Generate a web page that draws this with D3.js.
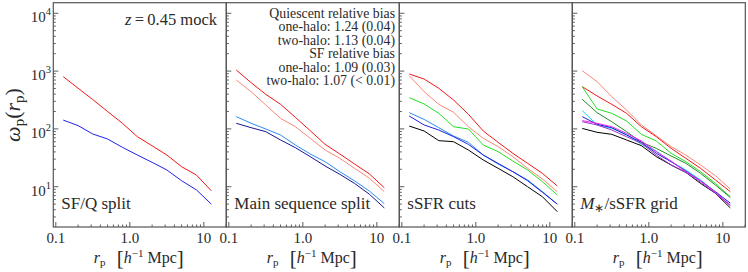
<!DOCTYPE html>
<html><head><meta charset="utf-8">
<script src="https://cdn.jsdelivr.net/npm/d3@7/dist/d3.min.js"></script>
</head><body style="margin:0;background:#fff"><svg id="c" width="748" height="272" style="display:block"></svg>
<script>
// ---- data ----
const rp = [0.126, 0.2, 0.316, 0.5, 0.794, 1.26, 2.0, 3.16, 5.0, 7.94, 12.6];

const p1_quiescent = [801, 506, 321, 200, 125, 73.5, 51, 35.4, 22.2, 15.9, 8.5];
const p1_starforming = [142, 114, 81.6, 66.9, 48, 35.4, 26.4, 19.5, 12.7, 8.8, 5.0];

const p2_q_below = [1044, 631, 396, 266, 158, 93, 54, 36.8, 24.7, 16.6, 9.6];
const p2_q_above = [701, 441, 259, 152, 109, 68.7, 43.2, 31, 20.8, 14, 8.2];
const p2_sf_below = [163, 125, 99.6, 78.4, 52.6, 36.8, 27.1, 18.2, 12.6, 8.4, 5.1];
const p2_sf_above = [125, 105, 89.5, 64.3, 47.3, 33.1, 22.8, 16.4, 11.4, 7.4, 4.3];

const p3_ssfr1 = [891, 730, 503, 316, 179, 92, 58.6, 37.8, 25.4, 17, 10.3];
const p3_ssfr2 = [834, 441, 266, 194, 109, 68.7, 49.3, 33.1, 20.8, 13.6, 8.2];
const p3_ssfr3 = [347, 270, 186, 109, 99.6, 52.6, 40.4, 27.8, 19.5, 12.2, 7.2];
const p3_ssfr4 = [191, 146, 105, 75.3, 58.6, 35.3, 24.7, 18.2, 13.1, 8.2, 5.0];
const p3_ssfr5 = [167, 117, 95.7, 73.4, 54, 35.3, 25.3, 18.2, 12.7, 8.0, 5.0];
const p3_ssfr6 = [112, 92, 62.6, 60.1, 43.1, 29, 20.8, 14.9, 10, 6.7, 3.7];

const p4_g1 = [1016, 656, 361, 212, 117, 76.3, 49.3, 35.3, 23.7, 15.5, 9.1];
const p4_g2 = [538, 371, 266, 186, 109, 73.4, 46.1, 31, 20.8, 13.1, 8.2];
const p4_g3 = [538, 221, 186, 137, 80.5, 61.8, 37.8, 27.1, 18.2, 11.4, 6.7];
const p4_g4 = [325, 191, 133, 89.6, 58.6, 46.1, 34, 25.4, 17, 10.7, 6.5];
const p4_g5 = [207, 117, 102, 80.5, 54, 41.5, 27.1, 19.5, 13.1, 8.0, 4.8];
const p4_g6 = [163, 120, 105, 78.4, 58.6, 37.8, 27.1, 18.7, 12.6, 8.2, 5.2];
const p4_g7 = [139, 125, 109, 83.8, 61.8, 40.4, 27.8, 18.2, 12.6, 8.0, 4.8];
const p4_g8 = [133, 117, 95.7, 73.4, 56.3, 35.3, 23.7, 17.7, 11.9, 7.7, 4.7];
const p4_g9 = [102, 87.3, 80.5, 64.3, 51.3, 33.1, 23.7, 17.7, 11.4, 7.7, 4.3];

const panelTitles = ["SF/Q split", "Main sequence split", "sSFR cuts", "M*/sSFR grid"];
const xTickValues = [0.1, 1, 10];
const xTickLabels = ["0.1", "1.0", "10"];
const yTickValues = [10, 100, 1000, 10000];
const yTickExps = ["1", "2", "3", "4"];
const annotationLines = ["Quiescent relative bias", "one-halo: 1.24 (0.04)", "two-halo: 1.13 (0.04)",
  "SF relative bias", "one-halo: 1.09 (0.03)", "two-halo: 1.07 (< 0.01)"];

const panels = [
  [{v: p1_quiescent, c: "#f01818"}, {v: p1_starforming, c: "#2020ee"}],
  [{v: p2_q_below, c: "#f01818"}, {v: p2_q_above, c: "#f88878"}, {v: p2_sf_below, c: "#2a8cf5"}, {v: p2_sf_above, c: "#16168c"}],
  [{v: p3_ssfr1, c: "#f01818"}, {v: p3_ssfr2, c: "#f88878"}, {v: p3_ssfr3, c: "#22e022"}, {v: p3_ssfr4, c: "#2a8cf5"}, {v: p3_ssfr5, c: "#2020dd"}, {v: p3_ssfr6, c: "#000"}],
  [{v: p4_g1, c: "#f88878"}, {v: p4_g2, c: "#f01818"}, {v: p4_g3, c: "#22e022"}, {v: p4_g4, c: "#228b22"}, {v: p4_g5, c: "#10dede"}, {v: p4_g6, c: "#2020dd"}, {v: p4_g9, c: "#000"}, {v: p4_g8, c: "#9a33cc"}, {v: p4_g7, c: "#ee22ee"}]
];

// ---- layout ----
const svg = d3.select("#c");
const txt = "#2a2a2a";
const left0 = 53.3, pw = 173, plotTop = 2.7, plotBottom = 227;
const x = d3.scaleLog().domain([0.0925, 20.1]).range([0, pw]);
const y = d3.scaleLog().domain([Math.pow(10, 0.303), Math.pow(10, 4.183)]).range([plotBottom, plotTop]);
const line = d3.line().x((d, i) => x(rp[i])).y(d => y(d));

const defs = svg.append("defs");
panels.forEach((series, p) => {
  const L = left0 + p * pw;
  const g = svg.append("g").attr("transform", `translate(${L},0)`);
  defs.append("clipPath").attr("id", "clip" + p).append("rect")
    .attr("x", 0).attr("y", plotTop).attr("width", pw).attr("height", plotBottom - plotTop);
  const xAxis = g.append("g").attr("transform", `translate(0,${plotBottom})`);
  const xMinor = [];
  [0.1, 1, 10].forEach(dec => { for (let k = 1; k <= 9; k++) { const v = dec * k; if (v > x.domain()[0] && v < x.domain()[1]) xMinor.push(v); } });
  xMinor.forEach(v => {
    const major = xTickValues.some(t => Math.abs(t - v) < 1e-9);
    xAxis.append("line").attr("x1", x(v)).attr("x2", x(v)).attr("y1", 0).attr("y2", major ? -5 : -2.5)
      .attr("stroke", "#333").attr("stroke-width", 0.8);
  });
  xTickValues.forEach((v, i) => {
    g.append("text").attr("x", x(v)).attr("y", 243).attr("text-anchor", "middle")
      .style("font-size", "15px").text(xTickLabels[i]);
  });
  const yMinor = [];
  [1, 10, 100, 1000, 10000].forEach(dec => { for (let k = 1; k <= 9; k++) { const v = dec * k; if (v > y.domain()[0] && v < y.domain()[1]) yMinor.push(v); } });
  yMinor.forEach(v => {
    const major = yTickValues.includes(v);
    g.append("line").attr("x1", 0).attr("x2", major ? 5 : 2.5).attr("y1", y(v)).attr("y2", y(v))
      .attr("stroke", "#333").attr("stroke-width", 0.8);
  });
  const lg = g.append("g").attr("clip-path", `url(#clip${p})`);
  series.forEach(s => {
    lg.append("path").datum(s.v).attr("d", line).attr("fill", "none")
      .attr("stroke", s.c).attr("stroke-width", 1.0).attr("stroke-linejoin", "round");
  });
  g.append("rect").attr("x", 0).attr("y", plotTop).attr("width", pw).attr("height", plotBottom - plotTop)
    .attr("fill", "none").attr("stroke", "#555").attr("stroke-width", 1.2);
  const t = g.append("text").attr("x", 8).attr("y", 209).style("font-size", "17px");
  if (p === 3) {
    t.append("tspan").style("font-style", "italic").text("M");
    t.append("tspan").style("font-size", "12px").attr("dy", 3).text("∗");
    t.append("tspan").attr("dy", -3).text("/sSFR grid");
  } else t.text(panelTitles[p]);
  const xl = g.append("text").attr("x", pw / 2 - 1).attr("y", 263).attr("text-anchor", "middle").style("font-size", "16px");
  xl.append("tspan").style("font-style", "italic").text("r");
  xl.append("tspan").style("font-size", "11px").attr("dy", 3).text("p");
  xl.append("tspan").attr("dy", -3).text("\u2002\u2009");
  xl.append("tspan").style("font-size", "21px").attr("dy", 1.5).text("[");
  xl.append("tspan").style("font-style", "italic").attr("dy", -1.5).text("h");
  xl.append("tspan").style("font-size", "11px").attr("dy", -6).text("−1");
  xl.append("tspan").attr("dy", 6).text(" Mpc");
  xl.append("tspan").style("font-size", "21px").attr("dy", 1.5).text("]");
});

yTickValues.forEach((v, i) => {
  const t = svg.append("text").attr("x", 51).attr("y", y(v) + 9).attr("text-anchor", "end").style("font-size", "15px");
  t.append("tspan").text("10");
  t.append("tspan").style("font-size", "10.5px").attr("dy", -7).text(yTickExps[i]);
});

const yl = svg.append("text").attr("transform", "translate(20,115) rotate(-90)").attr("text-anchor", "middle").style("font-size", "22px");
yl.append("tspan").style("font-style", "italic").text("ω");
yl.append("tspan").style("font-size", "15px").attr("dy", 4).text("p");
yl.append("tspan").attr("dy", -4).text("(");
yl.append("tspan").style("font-style", "italic").text("r");
yl.append("tspan").style("font-size", "15px").attr("dy", 4).text("p");
yl.append("tspan").attr("dy", -4).text(")");

const z = svg.append("text").attr("x", 217).attr("y", 25).attr("text-anchor", "end").style("font-size", "16.5px");
z.append("tspan").style("font-style", "italic").text("z");
z.append("tspan").text("\u2009=\u20090.45 mock");

annotationLines.forEach((s, i) => {
  svg.append("text").attr("x", 395).attr("y", 17.5 + i * 13.5).attr("text-anchor", "end")
    .style("font-size", "13.8px").text(s);
});

svg.selectAll("text").style("font-family", "Liberation Serif").style("fill", txt);
svg.selectAll("tspan").style("font-family", "Liberation Serif");
</script></body></html>
